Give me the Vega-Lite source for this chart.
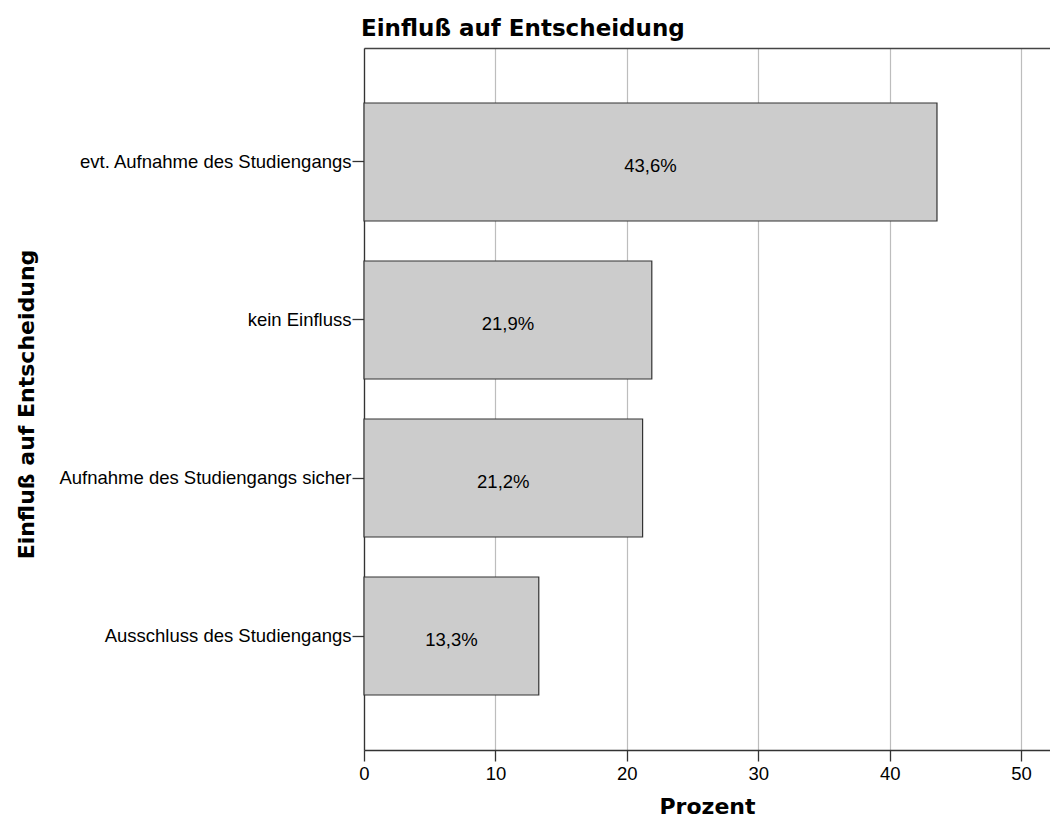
{
  "$schema": "https://vega.github.io/schema/vega-lite/v6.json",
  "width": 686,
  "height": 702,
  "autosize": "none",
  "padding": {"left": 364, "top": 48, "right": 0, "bottom": 76},
  "background": "#ffffff",
  "title": {
    "text": "Einfluß auf Entscheidung",
    "anchor": "start",
    "frame": "group",
    "font": "DejaVu Sans",
    "fontSize": 23,
    "fontWeight": "bold",
    "color": "#000000",
    "offset": 7,
    "dx": -3
  },
  "config": {"view": {"stroke": null}},
  "data": {
    "values": [
      {"Kategorie": "evt. Aufnahme des Studiengangs", "Prozent": 43.6, "Label": "43,6%"},
      {"Kategorie": "kein Einfluss", "Prozent": 21.9, "Label": "21,9%"},
      {"Kategorie": "Aufnahme des Studiengangs sicher", "Prozent": 21.2, "Label": "21,2%"},
      {"Kategorie": "Ausschluss des Studiengangs", "Prozent": 13.3, "Label": "13,3%"}
    ]
  },
  "encoding": {
    "y": {
      "field": "Kategorie",
      "type": "nominal",
      "sort": null,
      "scale": {"paddingInner": 0.253, "paddingOuter": 0.348},
      "axis": {
        "title": "Einfluß auf Entscheidung",
        "titleFont": "DejaVu Sans",
        "titleFontSize": 22,
        "titleFontWeight": "bold",
        "titleColor": "#000000",
        "titleX": -331,
        "titleY": 356,
        "titleAngle": -90,
        "titleAlign": "center",
        "titleBaseline": "alphabetic",
        "labelFont": "Liberation Sans",
        "labelFontSize": 18.5,
        "labelColor": "#000000",
        "labelPadding": 1,
        "labelLimit": 500,
        "tickSize": 12,
        "tickColor": "#333333",
        "tickWidth": 1.3,
        "domainColor": "#333333",
        "domainWidth": 1.3,
        "grid": false
      }
    }
  },
  "layer": [
    {
      "mark": {"type": "bar", "fill": "#cccccc", "stroke": "#333333", "strokeWidth": 1.2},
      "encoding": {
        "x": {
          "field": "Prozent",
          "type": "quantitative",
          "scale": {"domain": [0, 52.2], "nice": false, "zero": true},
          "axis": {
            "orient": "bottom",
            "values": [0, 10, 20, 30, 40, 50],
            "title": "Prozent",
            "titleFont": "DejaVu Sans",
            "titleFontSize": 22,
            "titleFontWeight": "bold",
            "titleColor": "#000000",
            "titlePadding": 14,
            "labelFont": "Liberation Sans",
            "labelFontSize": 18.5,
            "labelColor": "#000000",
            "labelPadding": 3,
            "labelFlush": false,
            "tickSize": 11,
            "tickColor": "#333333",
            "tickWidth": 1.3,
            "domainColor": "#333333",
            "domainWidth": 1.3,
            "grid": true,
            "gridColor": "#bdbdbd",
            "gridWidth": 1.2
          }
        }
      }
    },
    {
      "mark": {"type": "text", "font": "Liberation Sans", "fontSize": 18.5, "color": "#000000", "baseline": "middle", "align": "center", "dy": 4},
      "encoding": {
        "x": {
          "field": "Prozent",
          "type": "quantitative",
          "scale": {"domain": [0, 104.4], "nice": false, "zero": true},
          "axis": {
            "orient": "top",
            "labels": false,
            "ticks": false,
            "grid": false,
            "title": null,
            "domainColor": "#444444",
            "domainWidth": 1.3
          }
        },
        "text": {"field": "Label"}
      }
    }
  ],
  "resolve": {"scale": {"x": "independent"}, "axis": {"x": "independent"}}
}
